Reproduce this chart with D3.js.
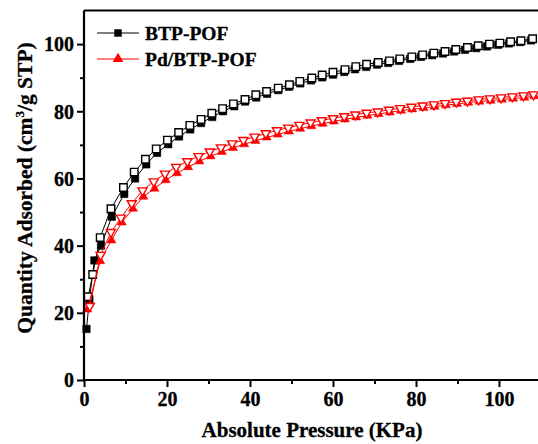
<!DOCTYPE html>
<html>
<head>
<meta charset="utf-8">
<script src="https://cdn.jsdelivr.net/npm/d3@7"></script>
<style>
  html, body { margin: 0; padding: 0; background: #fff; }
  svg { display: block; }
  svg text { font-family: "Liberation Serif", "Times New Roman", Times, Tinos, "DejaVu Serif", serif !important; font-weight: bold; }
</style>
</head>
<body>
<svg id="chart" width="538" height="444"></svg>
<script>
// ---- data ----
const seriesNames = ["BTP-POF", "Pd/BTP-POF"];
const xTicks = [0, 20, 40, 60, 80, 100];
const yTicks = [0, 20, 40, 60, 80, 100];

// BTP-POF adsorption (filled squares)
const btpAdsX = [0.6, 1.3, 2.5, 4.1, 6.7, 9.7, 12.3, 15.0, 17.6, 20.3, 22.9, 25.6, 28.2, 30.9, 33.5, 36.2, 38.8, 41.5, 44.1, 46.8, 49.4, 52.1, 54.7, 57.4, 60.0, 62.7, 65.3, 68.0, 70.6, 73.3, 75.9, 78.6, 81.2, 83.9, 86.5, 89.2, 91.8, 94.5, 97.1, 99.8, 102.4, 105.1, 107.7];
const btpAdsY = [15.2, 24.0, 35.6, 40.0, 48.6, 55.4, 60.0, 64.2, 67.6, 70.2, 72.5, 74.6, 76.5, 78.3, 80.0, 81.5, 82.9, 84.1, 85.2, 86.3, 87.3, 88.3, 89.2, 90.1, 90.9, 91.7, 92.5, 93.2, 93.9, 94.4, 95.0, 95.6, 96.2, 96.7, 97.2, 97.8, 98.3, 98.8, 99.3, 99.8, 100.2, 100.6, 101.1];

// BTP-POF desorption (open squares)
const btpDesX = [108.1, 105.3, 102.8, 100.2, 97.7, 95.0, 92.4, 89.6, 87.0, 84.3, 81.6, 79.0, 76.1, 73.6, 70.9, 68.1, 65.5, 62.9, 60.0, 57.4, 54.9, 52.0, 49.5, 46.8, 44.0, 41.4, 38.8, 36.0, 33.4, 30.8, 28.2, 25.5, 22.8, 20.1, 17.4, 14.8, 12.1, 9.5, 6.5, 3.9, 2.1, 1.0];
const btpDesY = [101.6, 101.0, 100.7, 100.3, 100.0, 99.5, 99.0, 98.4, 97.8, 97.3, 96.8, 96.2, 95.6, 95.0, 94.5, 94.0, 93.3, 92.4, 91.6, 90.8, 89.9, 88.9, 87.9, 86.9, 85.9, 84.9, 83.5, 82.2, 80.8, 79.4, 77.6, 75.8, 73.7, 71.4, 68.8, 65.7, 61.9, 57.3, 51.0, 42.4, 31.4, 24.8];

// Pd/BTP-POF adsorption (filled up triangles)
const pdAdsX = [0.8, 3.9, 6.6, 9.1, 11.8, 14.3, 17.0, 19.7, 22.4, 25.1, 27.8, 30.5, 33.2, 35.9, 38.6, 41.3, 44.0, 46.7, 49.4, 52.1, 54.8, 57.5, 60.2, 62.9, 65.6, 68.3, 71.0, 73.7, 76.4, 79.1, 81.8, 84.5, 87.2, 89.9, 92.6, 95.3, 98.0, 100.7, 103.4, 106.1, 108.5];
const pdAdsY = [21.0, 35.4, 41.6, 46.9, 51.0, 54.6, 57.0, 59.5, 61.6, 63.4, 65.1, 66.6, 67.9, 69.1, 70.2, 71.2, 72.2, 73.1, 74.0, 74.8, 75.6, 76.3, 77.0, 77.6, 78.2, 78.7, 79.2, 79.7, 80.2, 80.6, 81.0, 81.4, 81.8, 82.2, 82.6, 82.9, 83.2, 83.5, 83.8, 84.1, 84.5];

// Pd/BTP-POF desorption (open down triangles)
const pdDesX = [108.3, 105.9, 103.2, 100.5, 97.8, 95.1, 92.4, 89.7, 87.0, 84.3, 81.6, 78.9, 76.2, 73.5, 70.8, 68.1, 65.4, 62.7, 60.0, 57.3, 54.6, 51.9, 49.2, 46.5, 43.8, 41.1, 38.4, 35.7, 33.0, 30.3, 27.6, 24.9, 22.2, 19.5, 16.8, 14.1, 11.5, 8.9, 6.5, 4.0, 1.4];
const pdDesY = [85.0, 84.7, 84.4, 84.1, 83.8, 83.5, 83.1, 82.8, 82.4, 82.0, 81.7, 81.3, 80.9, 80.4, 79.9, 79.5, 79.0, 78.5, 77.9, 77.3, 76.6, 75.9, 75.1, 74.3, 73.4, 72.4, 71.4, 70.4, 69.2, 68.0, 66.6, 65.1, 63.4, 61.4, 59.1, 56.4, 52.6, 48.3, 44.0, 37.2, 22.0];

// ---- layout ----
const FONT = "'Liberation Serif', 'Times New Roman', Times, Tinos, 'DejaVu Serif', serif";
const svg = d3.select("#chart");
const padL = 84, padB = 380, padT = 10.5, padR = 540.5;
const x = d3.scaleLinear().domain([0, 110]).range([padL, padR]);
const y = d3.scaleLinear().domain([0, 110]).range([padB, padT]);

const zip = (xs, ys) => xs.map((v, i) => [v, ys[i]]);

const line = d3.line().x(d => x(d[0])).y(d => y(d[1]));

const plot = svg.append("g");

function drawSeries(data, color, symType, size, filled, rotate) {
  plot.append("path")
    .attr("d", line(data))
    .attr("fill", "none")
    .attr("stroke", color)
    .attr("stroke-width", 1);
  const sym = d3.symbol().type(symType).size(size);
  plot.append("g").selectAll("path")
    .data(data)
    .join("path")
    .attr("d", sym)
    .attr("transform", d => `translate(${x(d[0])},${y(d[1])}) rotate(${rotate})`)
    .attr("fill", filled ? color : "#fff")
    .attr("stroke", color)
    .attr("stroke-width", filled ? 0.5 : 1.4);
}

drawSeries(zip(btpAdsX, btpAdsY), "#000", d3.symbolSquare, 56, true, 0);
drawSeries(zip(btpDesX, btpDesY), "#000", d3.symbolSquare, 56, false, 0);
drawSeries(zip(pdAdsX, pdAdsY), "#ff0000", d3.symbolTriangle, 36, true, 0);
drawSeries(zip(pdDesX, pdDesY), "#ff0000", d3.symbolTriangle, 36, false, 180);

// ---- axes ----
const xAxisMajor = d3.axisBottom(x).tickValues(xTicks).tickSize(7).tickFormat(d3.format("d"));
const xAxisMinor = d3.axisBottom(x).tickValues([10, 30, 50, 70, 90]).tickSize(4).tickFormat("");
const yAxisMajor = d3.axisLeft(y).tickValues(yTicks).tickSize(7).tickFormat(d3.format("d"));
const yAxisMinor = d3.axisLeft(y).tickValues([10, 30, 50, 70, 90]).tickSize(4).tickFormat("");

function styleAxis(g) {
  g.attr("font-family", null).attr("font-size", null);
  g.select(".domain").remove();
  g.selectAll("line").attr("stroke", "#000").attr("stroke-width", 2);
  g.selectAll("text").style("font-size", "20px").attr("fill", "#000")
    .attr("stroke", "#000").attr("stroke-width", 0.3)
    .style("font-family", FONT).style("font-weight", "bold");
}

const gx = svg.append("g").attr("transform", `translate(0,${padB})`).call(xAxisMajor).call(styleAxis);
gx.selectAll("text").attr("dy", "0.95em").attr("y", 7);
svg.append("g").attr("transform", `translate(0,${padB})`).call(xAxisMinor).call(styleAxis);
const gy = svg.append("g").attr("transform", `translate(${padL},0)`).call(yAxisMajor).call(styleAxis);
gy.selectAll("text").attr("x", -10).attr("dy", "0.34em");
svg.append("g").attr("transform", `translate(${padL},0)`).call(yAxisMinor).call(styleAxis);

// frame lines
svg.append("line").attr("x1", padL).attr("x2", 538).attr("y1", padB).attr("y2", padB)
  .attr("stroke", "#000").attr("stroke-width", 2.2);
svg.append("line").attr("x1", padL).attr("x2", padL).attr("y1", padT).attr("y2", padB + 1)
  .attr("stroke", "#000").attr("stroke-width", 2.2);
svg.append("line").attr("x1", padL).attr("x2", 538).attr("y1", padT).attr("y2", padT)
  .attr("stroke", "#000").attr("stroke-width", 2);

// axis titles
svg.append("text")
  .attr("x", 312).attr("y", 437)
  .attr("text-anchor", "middle").style("font-size", "21px").style("font-family", FONT)
  .attr("stroke", "#000").attr("stroke-width", 0.3)
  .text("Absolute Pressure (KPa)");

const yt = svg.append("text")
  .attr("transform", `translate(32,188) rotate(-90)`)
  .attr("text-anchor", "middle").style("font-size", "21.5px").style("font-family", FONT)
  .attr("stroke", "#000").attr("stroke-width", 0.3);
yt.append("tspan").text("Quantity Adsorbed (cm");
yt.append("tspan").style("font-size", "13px").attr("dy", -8).text("3");
yt.append("tspan").attr("dy", 8).text("/g STP)");

// ---- legend ----
const legendItems = [
  { name: seriesNames[0], color: "#000", sym: d3.symbolSquare, size: 56 },
  { name: seriesNames[1], color: "#ff0000", sym: d3.symbolTriangle, size: 50 }
];
const lg = svg.append("g");
legendItems.forEach((it, i) => {
  const ly = 33 + i * 26;
  lg.append("line").attr("x1", 97).attr("x2", 139).attr("y1", ly).attr("y2", ly)
    .attr("stroke", it.color).attr("stroke-width", 1);
  lg.append("path").attr("d", d3.symbol().type(it.sym).size(it.size)())
    .attr("transform", `translate(118,${ly})`).attr("fill", it.color);
  lg.append("text").attr("x", 145).attr("y", ly + 6.5)
    .style("font-size", "19.5px").style("font-family", FONT)
    .attr("stroke", "#000").attr("stroke-width", 0.3).text(it.name);
});
</script>
</body>
</html>
